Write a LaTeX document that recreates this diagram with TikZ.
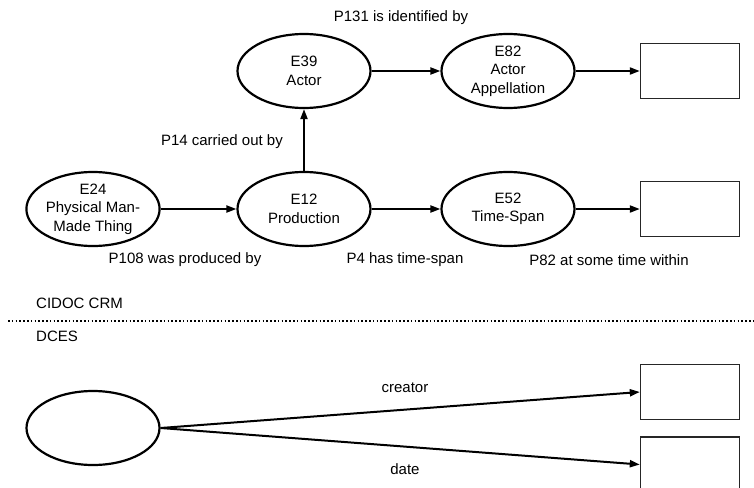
\documentclass[tikz,border=0pt]{standalone}
\usepackage{fontspec}
\setmainfont{Liberation Sans}
\usetikzlibrary{shapes, arrows.meta, positioning}

\begin{document}
\begin{tikzpicture}[
    x=1pt, y=-1pt,
    >={Triangle[length=10pt, width=7pt]},
    every node/.style={font=\fontsize{15}{18.5}\selectfont},
    entity/.style={ellipse, draw=black, line width=2.2pt, minimum width=133pt, minimum height=74pt, inner sep=0pt, align=center},
    literal/.style={rectangle, draw=black!85, line width=1.4pt, minimum width=99pt, minimum height=55pt},
    prop/.style={inner sep=0pt},
    line/.style={->, line width=2pt, draw=black}
]
\useasboundingbox (0,0) rectangle (754,487);

% 1. CIDOC CRM
\node[entity] (e24) at (93,209) {E24\\Physical Man-\\Made Thing};
\node[entity] (e12) at (304,209) {E12\\Production};
\node[entity] (e52) at (508,209) {E52\\Time-Span};
\node[literal] (span) at (690,209) {};

\node[entity] (e39) at (304,71) {E39\\Actor};
\node[entity] (e82) at (508,71) {E82\\Actor\\Appellation};
\node[literal] (name) at (690,71) {};

% 2. Property labels
\node[prop] (p131) at (401,18) {P131 is identified by};
\node[prop, anchor=east] (p14) at (283,142) {P14 carried out by};
\node[prop] (p108) at (185,260) {P108 was produced by};
\node[prop] (p4) at (405,260) {P4 has time-span};
\node[prop] (p82) at (609,260) {P82 at some time within};

% 3. DCES
\node[prop, anchor=west] (crm) at (36,303) {CIDOC CRM};
\node[prop, anchor=west] (dces) at (36,336) {DCES};
\coordinate (sepl) at (8,321);
\coordinate (sepr) at (754,321);

\node[entity] (res) at (93,428) {};
\node[literal] (creatorval) at (690,392) {};
\node[literal] (dateval) at (690,464.5) {};

% Connectors - CIDOC CRM
\draw[line] (e24) -- (e12);
\draw[line] (e12) -- (e52);
\draw[line] (e52) -- (span);
\draw[line] (e12) -- (e39);
\draw[line] (e39) -- (e82);
\draw[line] (e82) -- (name);

% Separator
\draw[line width=1.6pt, dash pattern=on 1.6pt off 2.2pt] (sepl) -- (sepr);

% Connectors - DCES
\draw[line] (res.east) -- node[above=13pt, pos=0.51]{creator} (creatorval.west);
\draw[line] (res.east) -- node[below=13pt, pos=0.51]{date} (dateval.west);

\end{tikzpicture}
\end{document}
